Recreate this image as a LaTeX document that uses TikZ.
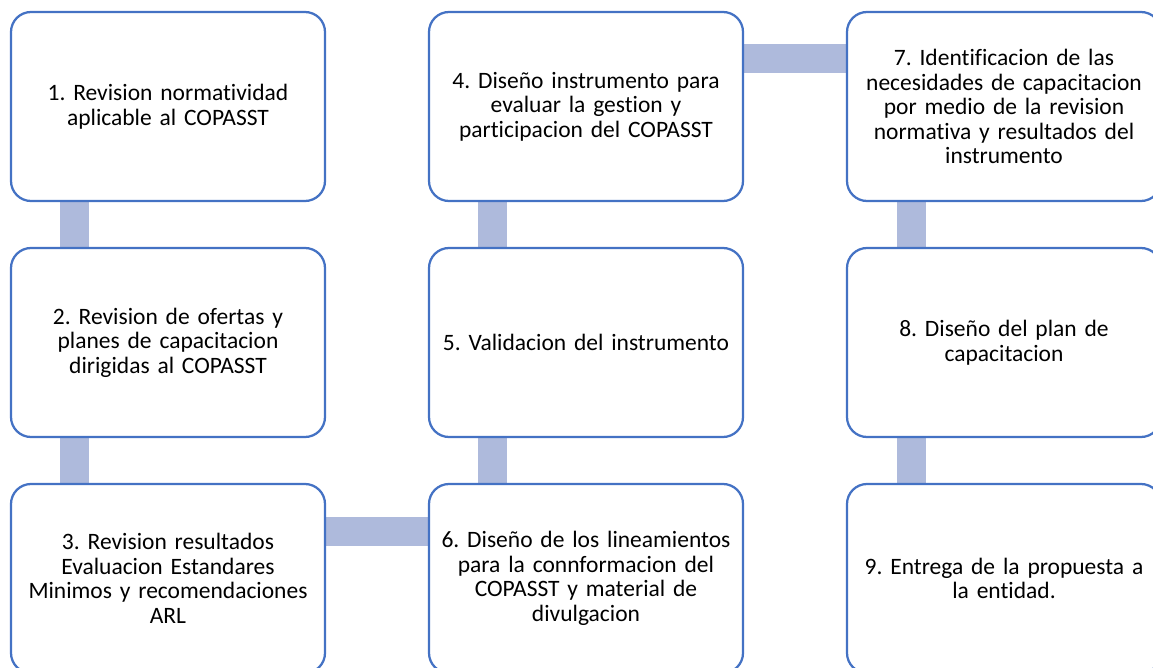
\documentclass[tikz,border=0pt]{standalone}
\usepackage{fontspec}
\setmainfont{Carlito}[Ligatures={NoCommon}]
\frenchspacing
\usepackage{tikz}
\usetikzlibrary{positioning,backgrounds}
\definecolor{stepblue}{RGB}{68, 114, 196}
\definecolor{bandblue}{RGB}{174, 186, 220}
\tikzstyle{stepbox} = [rectangle, rounded corners=20pt, draw=stepblue, line width=2.25pt, fill=white, text=black, align=center, text width=305pt, font=\fontsize{23.5}{24.5}\selectfont, minimum width=314pt, minimum height=189pt, inner sep=0pt, outer sep=0pt]
\tikzstyle{band} = [draw=bandblue, line width=29pt]

\begin{document}
\begin{tikzpicture}[auto]

\useasboundingbox (0,0) rectangle (1153pt,-668pt);

% boxes =============================

% first column
\node[stepbox] (s1) at (168pt,-106.5pt) {1. Revision normatividad\\aplicable al COPASST};
\node[stepbox, below=47pt of s1] (s2) {2. Revision de ofertas y\\planes de capacitacion\\dirigidas al COPASST};
\node[stepbox, below=47pt of s2] (s3) {3. Revision resultados\\Evaluacion Estandares\\Minimos y recomendaciones\\ARL};

% second column
\node[stepbox, right=104pt of s1] (s4) {4. Diseño instrumento para\\evaluar la gestion y\\participacion del COPASST};
\node[stepbox, below=47pt of s4] (s5) {5. Validacion del instrumento};
\node[stepbox, below=47pt of s5] (s6) {6. Diseño de los lineamientos\\para la connformacion del\\COPASST y material de\\divulgacion};

% third column
\node[stepbox, right=104pt of s4] (s7) {7. Identificacion de las\\necesidades de capacitacion\\por medio de la revision\\normativa y resultados del\\instrumento};
\node[stepbox, below=47pt of s7] (s8) {8. Diseño del plan de\\capacitacion};
\node[stepbox, below=47pt of s8] (s9) {9. Entrega de la propuesta a\\la entidad.};

% bands =============================
\begin{scope}[on background layer]
\path[band] ([xshift=63.5pt]s1.south west) -- ([xshift=63.5pt]s2.north west);
\path[band] ([xshift=63.5pt]s2.south west) -- ([xshift=63.5pt]s3.north west);
\path[band] ([yshift=-47pt]s3.north east) -- ([yshift=-47pt]s6.north west);
\path[band] ([xshift=63.5pt]s6.north west) -- ([xshift=63.5pt]s5.south west);
\path[band] ([xshift=63.5pt]s5.north west) -- ([xshift=63.5pt]s4.south west);
\path[band] ([yshift=-47pt]s4.north east) -- ([yshift=-47pt]s7.north west);
\path[band] ([xshift=64.5pt]s7.south west) -- ([xshift=64.5pt]s8.north west);
\path[band] ([xshift=64.5pt]s8.south west) -- ([xshift=64.5pt]s9.north west);
\end{scope}

\end{tikzpicture}
\end{document}
